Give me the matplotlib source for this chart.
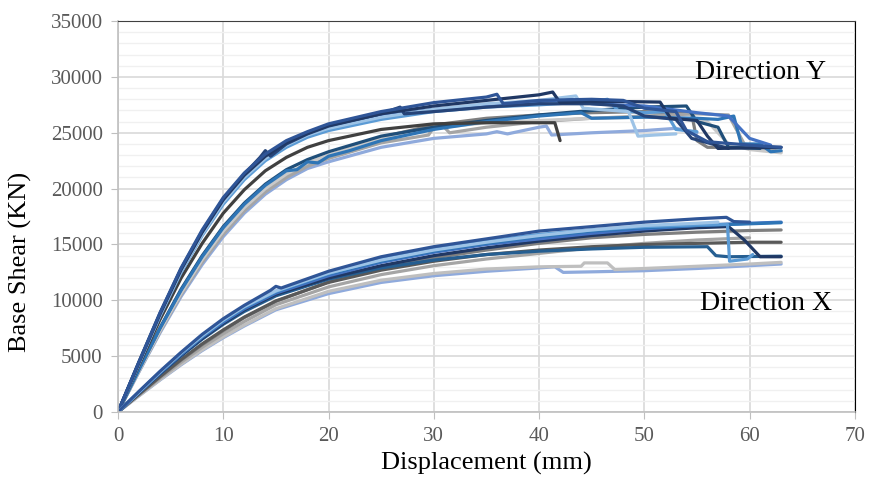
import matplotlib.pyplot as plt
from matplotlib.ticker import MultipleLocator

# Pushover curves, direction Y (displacement mm, base shear kN)
y1_d = [0, 2, 4, 6, 8, 10, 12, 14, 16, 18, 20, 25, 30, 35, 36, 36.6, 40, 45, 48, 50, 53, 54, 56, 60, 63]
y1_v = [0, 4500, 8900, 12900, 16300, 19200, 21400, 23100, 24300, 25100, 25800, 26900, 27700, 28200, 28450, 27600, 27900, 28000, 27900, 27200, 26900, 25200, 24200, 23900, 23700]
y2_d = [0, 2, 4, 6, 8, 10, 12, 14, 16, 18, 20, 25, 30, 35, 40, 41.3, 42, 45, 48, 51.5, 52.5, 55, 56, 57, 63]
y2_v = [0, 4450, 8800, 12750, 16100, 19000, 21200, 22900, 24100, 24950, 25650, 26700, 27400, 27900, 28400, 28650, 27700, 27800, 27800, 27750, 26300, 26100, 24700, 23600, 23700]
y3_d = [0, 2, 4, 6, 8, 10, 12, 13.5, 14, 14.5, 16, 18, 20, 25, 26.8, 27.2, 30, 35, 40, 45, 48, 50, 53, 54.5, 58]
y3_v = [0, 4500, 8850, 12850, 16200, 19100, 21300, 22800, 23400, 22900, 24000, 24900, 25600, 26700, 27300, 26700, 26900, 27300, 27600, 27600, 27400, 26500, 26200, 24500, 23600]
y4_d = [0, 2, 4, 6, 8, 10, 12, 14, 16, 18, 20, 25, 30, 35, 40, 43.5, 44.2, 47, 48.5, 49.4, 51, 53]
y4_v = [0, 4400, 8700, 12600, 15900, 18800, 21000, 22700, 23900, 24800, 25400, 26400, 27100, 27600, 27900, 28300, 27200, 27000, 26900, 24700, 24800, 24900]
y5_d = [0, 2, 4, 6, 8, 10, 12, 14, 16, 18, 20, 25, 30, 35, 40, 41.5, 42]
y5_v = [0, 4200, 8300, 12000, 15100, 17800, 19900, 21600, 22800, 23700, 24300, 25300, 25800, 25900, 25900, 25900, 24300]
y6_d = [0, 2, 4, 6, 8, 10, 12, 14, 16, 18, 20, 25, 30, 35, 40, 45, 50, 54.5, 55, 56, 58.5]
y6_v = [0, 3700, 7300, 10600, 13600, 16100, 18200, 19900, 21200, 22200, 22900, 24600, 25700, 26300, 26600, 26800, 26900, 26700, 24300, 23700, 23700]
y7_d = [0, 2, 4, 6, 8, 10, 12, 14, 16, 17, 18, 19, 20, 22, 25, 30, 35, 40, 44, 45, 50, 55, 57, 58.5, 59.2, 61, 62, 63]
y7_v = [0, 3800, 7500, 10900, 13900, 16500, 18600, 20300, 21600, 21700, 22400, 22300, 22900, 23400, 24300, 25300, 26000, 26500, 26800, 26300, 26400, 26300, 26200, 26500, 24000, 24000, 23300, 23400]
y8_d = [0, 2, 4, 6, 8, 10, 12, 14, 16, 18, 20, 25, 30, 35, 36, 37, 40, 40.7, 41.2, 45, 50, 53, 55]
y8_v = [0, 3600, 7100, 10350, 13200, 15700, 17800, 19500, 20800, 21800, 22400, 23700, 24500, 24900, 25100, 24900, 25500, 25600, 24800, 25000, 25200, 25400, 25000]
y9_d = [0, 2, 4, 6, 8, 10, 12, 14, 16, 18, 20, 25, 29.5, 30, 31, 31.5, 35, 40, 45, 50, 55, 58, 59.5, 63]
y9_v = [0, 3650, 7200, 10500, 13400, 15900, 18000, 19700, 21000, 22000, 22700, 24100, 24800, 25500, 25500, 25000, 25500, 26000, 26300, 26500, 26700, 26600, 24000, 23300]
y10_d = [0, 2, 4, 6, 8, 10, 12, 14, 16, 18, 20, 25, 30, 35, 40, 45, 46.5, 47.5, 50, 52, 53, 55]
y10_v = [0, 4350, 8600, 12500, 15800, 18600, 20800, 22500, 23700, 24600, 25200, 26200, 26900, 27300, 27500, 27800, 28000, 27000, 26800, 26900, 25300, 25100]
y11_d = [0, 2, 4, 6, 8, 10, 12, 14, 16, 18, 20, 25, 30, 35, 40, 45, 50, 54, 55, 57, 58, 61]
y11_v = [0, 3850, 7550, 11000, 14000, 16600, 18700, 20400, 21700, 22600, 23300, 24700, 25500, 26100, 26600, 27000, 27300, 27400, 26000, 25500, 23700, 23600]
y12_d = [0, 2, 4, 6, 8, 10, 12, 14, 16, 18, 20, 25, 30, 35, 40, 45, 50, 53, 56, 58, 60, 63]
y12_v = [0, 3700, 7300, 10650, 13650, 16200, 18300, 20000, 21300, 22300, 23000, 24500, 25400, 25900, 26100, 26300, 26400, 26300, 26000, 24000, 23500, 23200]
y13_d = [0, 2, 4, 6, 8, 10, 12, 14, 16, 18, 20, 25, 30, 35, 40, 43, 45, 50, 55, 58, 60, 62]
y13_v = [0, 4400, 8700, 12650, 16000, 18900, 21100, 22800, 24000, 24900, 25500, 26500, 27100, 27500, 27800, 28000, 27600, 27400, 26800, 26500, 24500, 23900]

# Pushover curves, direction X
x1_d = [0, 2, 4, 6, 8, 10, 12, 14.5, 15, 15.5, 20, 25, 30, 35, 40, 45, 50, 55, 57.8, 58.5, 60]
x1_v = [0, 1850, 3650, 5350, 6950, 8350, 9550, 10900, 11250, 11100, 12600, 13900, 14800, 15500, 16200, 16600, 17000, 17300, 17430, 17050, 17000]
x2_d = [0, 2, 4, 6, 8, 10, 12, 15, 20, 25, 30, 35, 40, 45, 50, 55, 60, 63]
x2_v = [0, 1780, 3540, 5200, 6750, 8150, 9350, 10750, 12350, 13500, 14400, 15100, 15700, 16200, 16500, 16700, 16850, 16950]
x3_d = [0, 2, 4, 6, 8, 10, 12, 15, 20, 25, 30, 35, 40, 45, 50, 55, 57.9, 58.1, 59.8, 60.3]
x3_v = [0, 1800, 3580, 5250, 6800, 8200, 9400, 10800, 12400, 13700, 14600, 15300, 15900, 16300, 16600, 16750, 16800, 13500, 13700, 14100]
x4_d = [0, 2, 4, 6, 8, 10, 12, 15, 20, 25, 30, 35, 40, 45, 50, 55, 60, 63]
x4_v = [0, 1580, 3140, 4640, 6030, 7280, 8450, 9900, 11650, 12900, 13800, 14500, 15100, 15600, 15900, 16100, 16250, 16300]
x5_d = [0, 2, 4, 6, 8, 10, 12, 15, 20, 25, 30, 35, 40, 45, 50, 55, 60, 63]
x5_v = [0, 1600, 3180, 4700, 6100, 7350, 8500, 9950, 11600, 12700, 13500, 14100, 14500, 14800, 15000, 15100, 15200, 15200]
x6_d = [0, 2, 4, 6, 8, 10, 12, 15, 20, 25, 30, 35, 40, 45, 50, 56, 56.8, 58, 63]
x6_v = [0, 1720, 3420, 5030, 6520, 7850, 9000, 10400, 11900, 12900, 13600, 14100, 14400, 14600, 14750, 14800, 14000, 13900, 13950]
x7_d = [0, 2, 4, 6, 8, 10, 12, 15, 20, 25, 30, 35, 40, 44, 44.3, 46.5, 47.2, 50, 55, 60, 63]
x7_v = [0, 1460, 2900, 4280, 5560, 6720, 7780, 9250, 10800, 11800, 12400, 12800, 13000, 13050, 13350, 13350, 12750, 12850, 13050, 13250, 13400]
x8_d = [0, 2, 4, 6, 8, 10, 12, 15, 20, 25, 30, 35, 40, 41.5, 42.3, 45, 50, 55, 60, 63]
x8_v = [0, 1450, 2870, 4230, 5500, 6650, 7700, 9150, 10600, 11600, 12200, 12600, 12900, 13000, 12500, 12550, 12650, 12850, 13100, 13250]
x9_d = [0, 2, 4, 6, 8, 10, 12, 15, 20, 25, 30, 35, 40, 45, 50, 55, 57]
x9_v = [0, 1800, 3600, 5300, 6850, 8250, 9450, 10850, 12450, 13600, 14500, 15200, 15800, 16300, 16700, 16900, 17000]
x10_d = [0, 2, 4, 6, 8, 10, 12, 15, 20, 25, 30, 35, 40, 45, 50, 55, 58, 59.5, 61, 63]
x10_v = [0, 1740, 3450, 5080, 6600, 7950, 9150, 10550, 12000, 13100, 14000, 14700, 15300, 15800, 16200, 16500, 16600, 15400, 13900, 13900]
x11_d = [0, 2, 4, 6, 8, 10, 12, 15, 20, 25, 30, 35, 40, 45, 50, 55, 60]
x11_v = [0, 1520, 3020, 4460, 5800, 7000, 8100, 9600, 11200, 12300, 13100, 13700, 14200, 14700, 15100, 15400, 15600]
x12_d = [0, 2, 4, 6, 8, 10, 12, 15, 20, 25, 30, 35, 40, 45, 50, 55, 60, 63]
x12_v = [0, 1760, 3500, 5150, 6700, 8050, 9250, 10650, 12200, 13400, 14300, 15000, 15500, 16000, 16400, 16700, 16900, 17000]

curves_y = [(y6_d, y6_v), (y8_d, y8_v), (y9_d, y9_v), (y12_d, y12_v), (y11_d, y11_v),
            (y7_d, y7_v), (y5_d, y5_v), (y10_d, y10_v), (y13_d, y13_v), (y4_d, y4_v),
            (y3_d, y3_v), (y2_d, y2_v), (y1_d, y1_v)]
colors_y = ['#7f7f7f', '#8faadc', '#a5a5a5', '#c9c9c9', '#1f4e79', '#2e75b6', '#404040',
            '#5b9bd5', '#4472c4', '#9dc3e6', '#264478', '#203864', '#2f5597']

curves_x = [(x8_d, x8_v), (x7_d, x7_v), (x11_d, x11_v), (x4_d, x4_v), (x5_d, x5_v),
            (x6_d, x6_v), (x10_d, x10_v), (x12_d, x12_v), (x2_d, x2_v), (x3_d, x3_v),
            (x9_d, x9_v), (x1_d, x1_v)]
colors_x = ['#8faadc', '#bfbfbf', '#a5a5a5', '#7f7f7f', '#595959', '#255e91', '#203864',
            '#4472c4', '#2e75b6', '#5b9bd5', '#9dc3e6', '#2f5597']

plt.rcParams['font.family'] = ['Liberation Serif', 'DejaVu Serif']

fig = plt.figure(figsize=(8.72, 4.91), dpi=100)
ax = fig.add_axes([0.1353, 0.1609, 0.845, 0.7961])

for (d, v), c in zip(curves_y, colors_y):
    ax.plot(d, v, color=c, lw=2.3, solid_joinstyle='round', solid_capstyle='round')
for (d, v), c in zip(curves_x, colors_x):
    ax.plot(d, v, color=c, lw=2.3, solid_joinstyle='round', solid_capstyle='round')

ax.set_xlim(0, 70)
ax.set_ylim(0, 35000)
ax.xaxis.set_major_locator(MultipleLocator(10))
ax.yaxis.set_major_locator(MultipleLocator(5000))
ax.yaxis.set_minor_locator(MultipleLocator(1000))

ax.grid(which='major', color='#d9d9d9', lw=1.2)
ax.grid(which='minor', axis='y', color='#f0f0f0', lw=1.0)
ax.set_axisbelow(True)

for s in ['left', 'bottom']:
    ax.spines[s].set_color('#bfbfbf')
    ax.spines[s].set_linewidth(1.2)
ax.spines['top'].set_color('#404040')
ax.spines['right'].set_color('black')

ax.tick_params(which='major', length=5, color='#bfbfbf', labelcolor='#595959',
               labelsize=15, pad=6)
ax.tick_params(which='minor', length=0)

ax.set_xlabel('Displacement (mm)', fontsize=19, color='black', labelpad=4)
ax.set_ylabel('Base Shear (KN)', fontsize=19, color='black')
ax.yaxis.set_label_coords(-0.117, 0.385)

ax.text(61, 30400, 'Direction Y', fontsize=20, ha='center', va='center')
ax.text(61.6, 9700, 'Direction X', fontsize=20, ha='center', va='center')

fig.savefig('out.png', dpi=100)
